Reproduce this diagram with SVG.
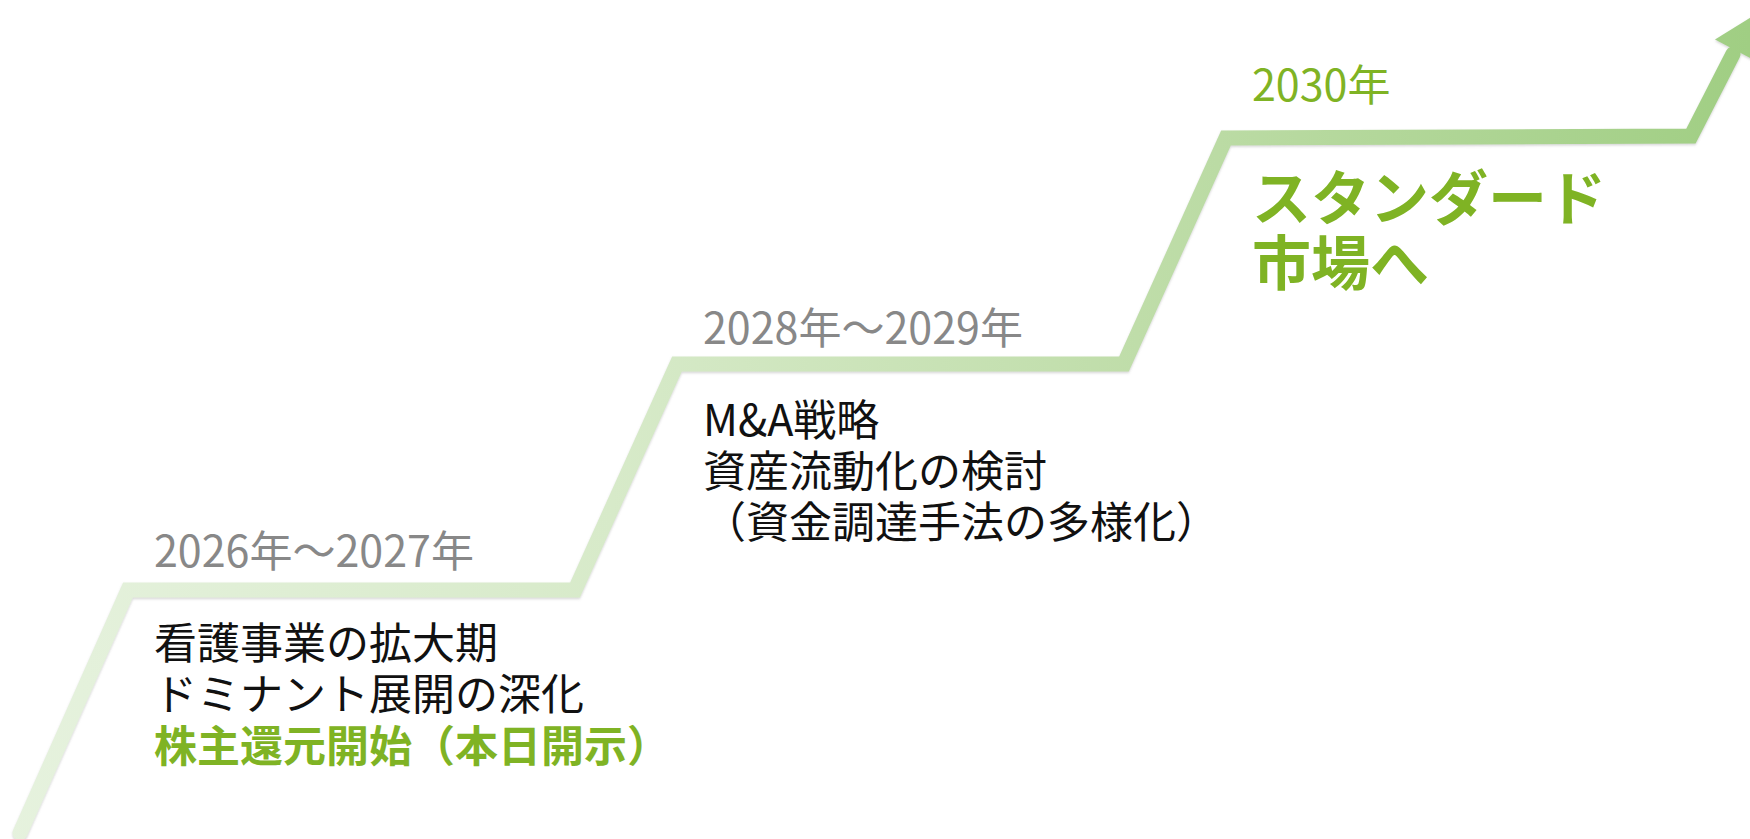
<svg xmlns="http://www.w3.org/2000/svg" width="1750" height="839" viewBox="0 0 1750 839">
  <defs>
    <linearGradient id="lineGrad" gradientUnits="userSpaceOnUse" x1="0" y1="0" x2="1750" y2="0">
      <stop offset="0" stop-color="#e6f2de"/>
      <stop offset="0.35" stop-color="#d7eac9"/>
      <stop offset="0.65" stop-color="#bfdda9"/>
      <stop offset="1" stop-color="#a0ce83"/>
    </linearGradient>
    <filter id="shadow" x="-5%" y="-5%" width="110%" height="110%">
      <feDropShadow dx="0" dy="1.5" stdDeviation="1" flood-color="#888888" flood-opacity="0.35"/>
    </filter>
  </defs>
  <style>
    text { font-family: "Noto Sans CJK JP", "Noto Sans", sans-serif; }
    .year { font-size: 43px; fill: #888888; font-weight: 400; }
    .yearGreen { font-size: 43px; fill: #7fb324; font-weight: 400; }
    .body { font-size: 43px; fill: #111111; font-weight: 400; }
    .bodyGreen { font-size: 43px; fill: #7fb324; font-weight: 700; }
    .big { font-size: 59px; fill: #7fb324; font-weight: 700; }
    .step { fill: none; stroke: url(#lineGrad); stroke-width: 15; stroke-linejoin: miter; stroke-linecap: round; }
  </style>
  <rect width="1750" height="839" fill="#ffffff"/>

  <g id="connectors" filter="url(#shadow)">
    <polyline class="step" points="20,833 128,590 575,590 677,364 1124,364 1226,138 1691,136 1733,54"/>
    <polygon points="1715,39.5 1753,16 1755,60.5" fill="url(#lineGrad)"/>
  </g>

  <g id="stage-2026">
    <text class="year" x="154" y="567">2026年～2027年</text>
    <text class="body" x="154" y="659">看護事業の拡大期</text>
    <text class="body" x="154" y="710">ドミナント展開の深化</text>
    <text class="bodyGreen" x="154" y="762">株主還元開始（本日開示）</text>
  </g>

  <g id="stage-2028">
    <text class="year" x="703" y="344">2028年～2029年</text>
    <text class="body" x="703" y="436">M&amp;A戦略</text>
    <text class="body" x="703" y="487">資産流動化の検討</text>
    <text class="body" x="703" y="538">（資金調達手法の多様化）</text>
  </g>

  <g id="stage-2030">
    <text class="yearGreen" x="1252" y="101">2030年</text>
    <text class="big" x="1252" y="220">スタンダード</text>
    <text class="big" x="1252" y="285">市場へ</text>
  </g>
</svg>
